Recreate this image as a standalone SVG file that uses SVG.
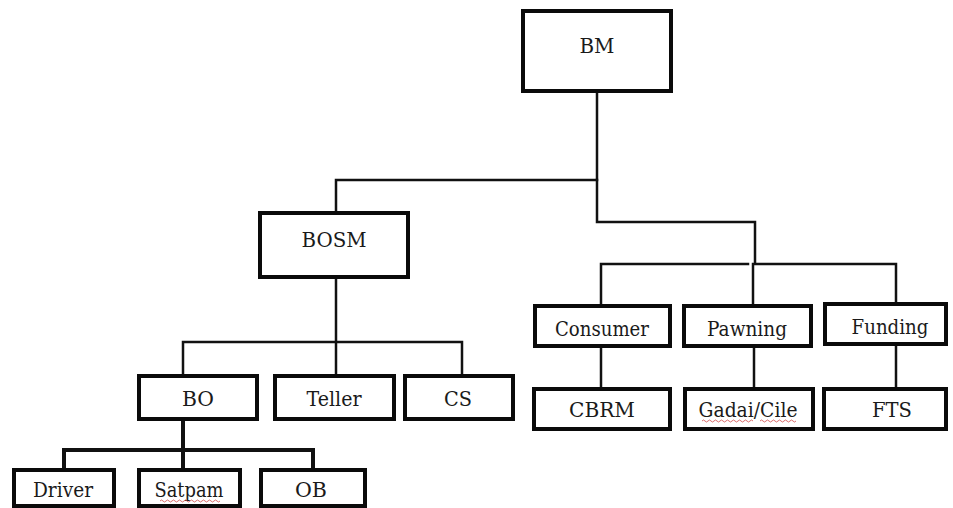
<svg xmlns="http://www.w3.org/2000/svg" width="953" height="508" viewBox="0 0 953 508">
  <style>
    .box { fill: #ffffff; stroke: #0a0a0a; stroke-width: 4; }
    text { font-family: 'DejaVu Serif', 'Liberation Serif', serif; font-size: 21px; fill: #1a1a1a; text-anchor: middle; }
    .wire { fill: none; stroke: #111111; stroke-width: 2.5; stroke-linejoin: miter; stroke-linecap: square; }
    .wire-bold { fill: none; stroke: #111111; stroke-width: 4; stroke-linejoin: miter; stroke-linecap: square; }
    .squiggle { fill: none; stroke: #d04a4a; stroke-width: 1; opacity: 0.8; }
  </style>
  <rect x="0" y="0" width="953" height="508" fill="#ffffff"/>

  <!-- connectors -->
  <g id="connectors">
    <path class="wire" d="M597 93 V180 H336 V211"/>
    <path class="wire" d="M597 180 V222 H755 V264 H896 V304"/>
    <path class="wire" d="M601 305 V264 H748"/>
    <path class="wire" d="M753 264 V305"/>
    <path class="wire" d="M336 279 V376"/>
    <path class="wire" d="M183 376 V342 H462 V376"/>
    <path class="wire" d="M601 346 V389"/>
    <path class="wire" d="M754 346 V389"/>
    <path class="wire" d="M896 344 V389"/>
    <path class="wire-bold" d="M183 421 V450"/>
    <path class="wire-bold" d="M64 470 V450 H313 V470"/>
    <path class="wire-bold" d="M183 450 V470"/>
  </g>

  <!-- nodes -->
  <g id="node-bm">
    <rect class="box" x="523" y="11" width="148" height="80"/>
    <text x="597" y="53" textLength="35" lengthAdjust="spacingAndGlyphs">BM</text>
  </g>
  <g id="node-bosm">
    <rect class="box" x="260" y="213" width="148" height="64"/>
    <text x="334" y="247" textLength="65" lengthAdjust="spacingAndGlyphs">BOSM</text>
  </g>
  <g id="node-bo">
    <rect class="box" x="139" y="376" width="118" height="43"/>
    <text x="198" y="406" textLength="32" lengthAdjust="spacingAndGlyphs">BO</text>
  </g>
  <g id="node-teller">
    <rect class="box" x="275" y="376" width="119" height="43"/>
    <text x="334" y="406" textLength="55" lengthAdjust="spacingAndGlyphs">Teller</text>
  </g>
  <g id="node-cs">
    <rect class="box" x="405" y="376" width="108" height="43"/>
    <text x="458" y="406" textLength="28" lengthAdjust="spacingAndGlyphs">CS</text>
  </g>
  <g id="node-consumer">
    <rect class="box" x="535" y="306" width="135" height="40"/>
    <text x="602" y="336" textLength="94" lengthAdjust="spacingAndGlyphs">Consumer</text>
  </g>
  <g id="node-pawning">
    <rect class="box" x="684" y="306" width="127" height="40"/>
    <text x="747" y="336" textLength="80" lengthAdjust="spacingAndGlyphs">Pawning</text>
  </g>
  <g id="node-funding">
    <rect class="box" x="825" y="304" width="121" height="40"/>
    <text x="890" y="334" textLength="77" lengthAdjust="spacingAndGlyphs">Funding</text>
  </g>
  <g id="node-cbrm">
    <rect class="box" x="534" y="389" width="136" height="40"/>
    <text x="602" y="417" textLength="66" lengthAdjust="spacingAndGlyphs">CBRM</text>
  </g>
  <g id="node-gadai">
    <rect class="box" x="685" y="389" width="128" height="40"/>
    <text x="748" y="417" textLength="99" lengthAdjust="spacingAndGlyphs">Gadai/Cile</text>
    <path class="squiggle" d="M702 421 q1.5 -2 3 0 t3 0 t3 0 t3 0 t3 0 t3 0 t3 0 t3 0 t3 0 t3 0 t3 0 t3 0 t3 0 t3 0 t3 0 t3 0 t3 0"/>
    <path class="squiggle" d="M760 421 q1.5 -2 3 0 t3 0 t3 0 t3 0 t3 0 t3 0 t3 0 t3 0 t3 0 t3 0 t3 0 t3 0"/>
  </g>
  <g id="node-fts">
    <rect class="box" x="824" y="389" width="122" height="40"/>
    <text x="892" y="417" textLength="40" lengthAdjust="spacingAndGlyphs">FTS</text>
  </g>
  <g id="node-driver">
    <rect class="box" x="14" y="470" width="100" height="36"/>
    <text x="63" y="497" textLength="60" lengthAdjust="spacingAndGlyphs">Driver</text>
  </g>
  <g id="node-satpam">
    <rect class="box" x="139" y="470" width="101" height="36"/>
    <text x="189" y="497" textLength="69" lengthAdjust="spacingAndGlyphs">Satpam</text>
    <path class="squiggle" d="M160 501 q1.5 -2 3 0 t3 0 t3 0 t3 0 t3 0 t3 0 t3 0 t3 0 t3 0 t3 0 t3 0 t3 0 t3 0 t3 0 t3 0 t3 0 t3 0 t3 0 t3 0 t3 0"/>
  </g>
  <g id="node-ob">
    <rect class="box" x="261" y="470" width="104" height="36"/>
    <text x="311" y="497" textLength="32" lengthAdjust="spacingAndGlyphs">OB</text>
  </g>
</svg>
